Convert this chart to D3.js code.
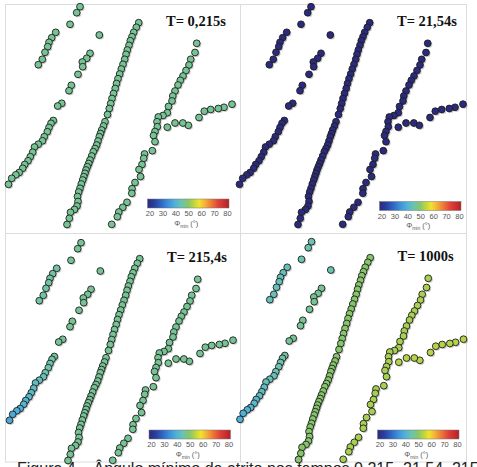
<!DOCTYPE html>
<html>
<head>
<meta charset="utf-8">
<script src="https://cdn.jsdelivr.net/npm/d3@7/dist/d3.min.js"></script>
<style>
  body { margin: 0; background: #fff; }
  svg { display: block; }
</style>
</head>
<body>
<div id="chart"></div>
<script>
const width = 477;
const height = 467;

// particle centres, read in pixels of the first panel
const groupA = [[80,6.7],[76.7,12.7],[70,24.3],[99.3,35]];
const groupB = [[55.7,32.3],[51.7,37.7],[49,42.3],[47.7,46.7],[45,52.3],[42.3,59.3],[38.3,64.7]];
const groupC = [[90,53.3],[86.7,58.3],[82.3,62],[82.7,66.7],[78,74.3],[71.3,85.3],[69,90.7],[61.7,103.3],[57.7,106]];
const groupD = [[53.3,120.5],[51,123.3],[49,127.5],[47.3,131.7],[44.3,136.7],[42.5,140.8],[38.3,144.2],[34.5,147],[32.7,152.2],
  [30.3,156.7],[28,160.8],[24.7,164.5],[22.7,168.3],[19.2,172.5],[15.8,174.8],[11.7,178.3],[8.5,184.3]];
const groupE = [[138.7,22.7],[136.3,27.3],[133.7,32.3],[132,36.7],[130.3,40.7],[129,45.3],[127.3,50],[126,54.3],[124.7,59.3],
  [123,64.3],[121.3,69],[119.7,74],[118,78.7],[116.5,83.5],[115.2,88.5],[113.5,93.5],[112,98.5],[110.7,103.5],[109.3,108.5],
  [107.5,114.5],[105,121.7],[103.5,126],[101.7,130],[100.5,133.5],[99.3,136.7],[98,141],[96.7,145],[95,148.5],[93.3,151.7],
  [91.7,156],[90,160],[88.7,163.5],[87.3,166.7],[86,170],[85,173.3],[83.8,176.7],[82.7,180],[81.3,184],[80,188.3],[78.7,192],
  [77.5,196.5],[78,201.5],[77,206],[74.5,209.5],[70.5,212.3],[69.3,218.3],[67,224.5]];
const groupF = [[196.7,43.3],[195,52.5],[190.7,59.3],[189,65],[186,70.5],[183,76],[180.3,80.3],[178,85],[175,91],[172.8,96],
  [172,101],[168.5,106.5],[167.3,112.7],[163,115.5],[158.3,117],[157,121.7],[157.3,126.7],[155,131.5],[153.5,135.5],[155,141.7],
  [152.3,150.7],[144.5,154],[143.7,158.3],[142,164.5],[139,169.5],[140.5,176.5],[135,182.5],[132,188.7],[131.8,193.3],
  [127,202.3],[122.8,207.3],[118.8,212],[117.3,216.7],[111.7,224.3]];
const groupG = [[232,104.2],[224,107.3],[218.3,108.5],[210.7,109.5],[204.3,111.2],[199,117.5],[188.3,125.3],[182.8,123],[175,123],[167.3,127.2]];

const groups = [groupA, groupB, groupC, groupD, groupE, groupF, groupG];

// minimum angle (deg) per group A..G, for each time
const times = ["T= 0,215s", "T= 21,54s", "T= 215,4s", "T= 1000s"];
const phiT1 = [47, 47, 47, 47, 47, 47, 47];
const phiT2 = [20, 20, 20, 20, 20, 20, 20];
const phiT3 = [47, 46, 47, 43, 47, 47, 47];
const phiT4 = [45, 44, 47, 43, 50, 52.5, 53.5];
// group D changes along its length (top -> bottom)
const phiDT3 = [46,46,45,45,45,44,44,43,43,42,42,41,41,40,40,39,39];
const phiDT4 = [46,46,45,45,45,44,44,44,43,43,43,42,42,41,41,40,40];

const colorTicks = [20, 30, 40, 50, 60, 70, 80];
const cmapStops = [20, 25, 30, 35, 40, 45, 50, 55, 58, 62, 67, 72, 80];
const cmapColors = ["#2b2a7e","#2a3f9e","#2f66c2","#3d8fd8","#4fb0d8","#6cc3b0","#86c66a","#c8d83a",
  "#f2e22c","#f4b43a","#ec7a36","#e0423a","#b52026"];

const color = d3.scaleLinear().domain(cmapStops).range(cmapColors).interpolate(d3.interpolateRgb);

const panels = [
  { title: times[0], phi: phiT1, phiD: null,   dx: 0,     dy: 0,   cbx: 147.5, cby: 199 },
  { title: times[1], phi: phiT2, phiD: null,   dx: 231,   dy: 0,   cbx: 379.5, cby: 201.5 },
  { title: times[2], phi: phiT3, phiD: phiDT3, dx: 1,     dy: 236, cbx: 149,   cby: 430 },
  { title: times[3], phi: phiT4, phiD: phiDT4, dx: 231.5, dy: 235, cbx: 377.5, cby: 430 }
];

const svg = d3.select("#chart").append("svg")
  .attr("width", width)
  .attr("height", height);

svg.append("rect").attr("width", width).attr("height", height).attr("fill", "#fff");

// gradient for the colour bars
const grad = svg.append("defs").append("linearGradient").attr("id", "cmap");
cmapStops.forEach((v, i) => {
  grad.append("stop")
    .attr("offset", ((v - 20) / 60 * 100) + "%")
    .attr("stop-color", cmapColors[i]);
});

// panel frames
const frame = svg.append("g").attr("fill", "none").attr("stroke", "#dcdcdc").attr("stroke-width", 1);
frame.append("rect").attr("x", 5.5).attr("y", 4.5).attr("width", 461).attr("height", 457.5);
frame.append("line").attr("x1", 240.5).attr("x2", 240.5).attr("y1", 4).attr("y2", 462);
frame.append("line").attr("x1", 5).attr("x2", 467).attr("y1", 233.5).attr("y2", 233.5);

panels.forEach((p) => {
  const x = d3.scaleLinear().domain([0, 240]).range([p.dx, p.dx + 240]);
  const y = d3.scaleLinear().domain([0, 235]).range([p.dy, p.dy + 235]);

  const pts = [];
  groups.forEach((g, gi) => {
    g.forEach((d, i) => {
      const v = (gi === 3 && p.phiD) ? p.phiD[i] : p.phi[gi];
      pts.push({ x: d[0], y: d[1], v: v });
    });
  });

  const g = svg.append("g");

  g.selectAll(".shadow")
    .data(pts)
    .enter()
    .append("circle")
    .attr("class", "shadow")
    .attr("cx", (d) => x(d.x) + 1.3)
    .attr("cy", (d) => y(d.y) + 1.3)
    .attr("r", 3.3)
    .attr("fill", "#9a9a9a")
    .attr("opacity", 0.55);

  g.selectAll(".pt")
    .data(pts)
    .enter()
    .append("circle")
    .attr("class", "pt")
    .attr("cx", (d) => x(d.x))
    .attr("cy", (d) => y(d.y))
    .attr("r", 3.4)
    .attr("fill", (d) => color(d.v))
    .attr("stroke", "#1e1e1e")
    .attr("stroke-width", 0.9);

  g.append("text")
    .attr("x", x(166))
    .attr("y", y(25.5))
    .attr("font-family", "'Liberation Serif', 'Times New Roman', serif")
    .attr("font-weight", "bold")
    .attr("font-size", 14.5)
    .attr("fill", "#111")
    .text(p.title);

  // colour bar
  const cbW = 81.5, cbH = 9;
  const cb = svg.append("g").attr("transform", "translate(" + p.cbx + "," + p.cby + ")");
  cb.append("rect")
    .attr("width", cbW)
    .attr("height", cbH)
    .attr("fill", "url(#cmap)")
    .attr("stroke", "#777")
    .attr("stroke-width", 0.5);

  const cs = d3.scaleLinear().domain([20, 80]).range([2, cbW - 2]);
  const axis = cb.append("g")
    .attr("transform", "translate(0," + (cbH + 1) + ")")
    .call(d3.axisBottom(cs).tickValues(colorTicks).tickSize(0).tickPadding(2));
  axis.select(".domain").remove();
  axis.selectAll("text")
    .attr("font-family", "'Liberation Sans', Arial, sans-serif")
    .attr("font-size", 7.5)
    .attr("fill", "#555");

  const lab = cb.append("text")
    .attr("x", cbW / 2 - 2)
    .attr("y", cbH + 17.5)
    .attr("text-anchor", "middle")
    .attr("font-family", "'Liberation Sans', Arial, sans-serif")
    .attr("font-size", 7.5)
    .attr("fill", "#555");
  lab.append("tspan").text("\u03A6");
  lab.append("tspan").attr("font-size", 5).attr("dy", 2).text("min");
  lab.append("tspan").attr("dy", -2).text(" (\u00B0)");
});

// caption, cut by the bottom of the image
svg.append("text")
  .attr("x", 17)
  .attr("y", 474)
  .attr("font-family", "'Liberation Sans', Arial, sans-serif")
  .attr("font-size", 16)
  .attr("fill", "#222")
  .text("Figura 4 \u2013 \u00C2ngulo m\u00EDnimo de atrito nos tempos 0,215, 21,54, 215,4 e 1000 s");
</script>
</body>
</html>
